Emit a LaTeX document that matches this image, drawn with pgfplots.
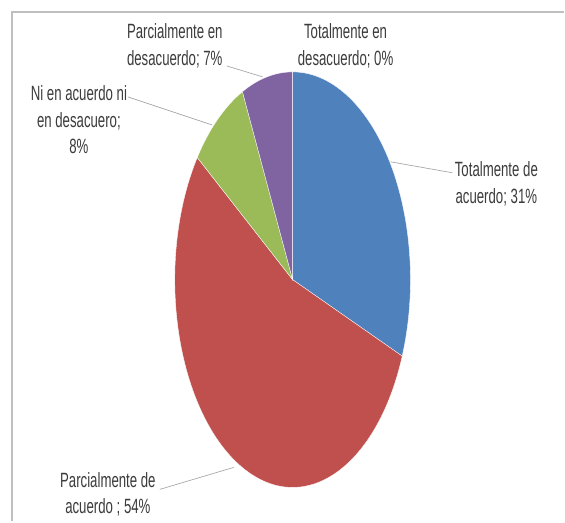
\documentclass[border=0pt]{standalone}
\usepackage{pgfplots}
\pgfplotsset{compat=1.18}
\usepackage{fontspec}
\setmainfont{Liberation Sans}[FakeStretch=0.64]

\definecolor{pieblue}{HTML}{4F81BD}
\definecolor{piered}{HTML}{C0504D}
\definecolor{piegreen}{HTML}{9BBB59}
\definecolor{piepurple}{HTML}{8064A2}
\definecolor{labelgrey}{HTML}{3C3C3C}
\definecolor{framegrey}{HTML}{BFBFBF}

\tikzset{lbl/.style={font=\fontsize{15.5}{20}\selectfont, text=labelgrey,
    align=center, inner sep=0pt}}

\begin{document}
\begin{tikzpicture}
  \begin{axis}[
      x=0.75pt, y=0.75pt,
      xmin=0, xmax=565, ymin=0, ymax=522,
      scale only axis,
      axis lines=none,
      clip=false,
    ]
    % background and chart frame
    \fill[white] (axis cs:0,0) rectangle (axis cs:565,522);
    \draw[framegrey, line width=1.1pt] (axis cs:12,0) -- (axis cs:12,510) -- (axis cs:565,510);

    % slices: share in %, clockwise from 12 o'clock
    \gdef\curang{90}
    \foreach \v/\c in {31/pieblue,54/piered,8/piegreen,7/piepurple,0/piepurple}{
      \pgfmathsetmacro\nextang{\curang-3.6*\v}
      \ifdim\v pt>0pt
        \edef\temp{\noexpand\fill[\c, draw=white, line width=0.25pt]
          (axis cs:293,242) -- ++({88.5pt*cos(\curang)},{156pt*sin(\curang)})
          arc[start angle=\curang, end angle=\nextang, x radius=88.5pt, y radius=156pt]
          -- cycle;}
        \temp
      \fi
      \xdef\curang{\nextang}
    }

    % leader lines
    \draw[gray!70, line width=0.5pt] (axis cs:391,360) -- (axis cs:453,349);
    \draw[gray!70, line width=0.5pt] (axis cs:227,456) -- (axis cs:263,445);
    \draw[gray!70, line width=0.5pt] (axis cs:128,425) -- (axis cs:212,397);
    \draw[gray!70, line width=0.5pt] (axis cs:160,32) -- (axis cs:234,54);

    % data labels
    \node[lbl] at (axis cs:497,338) {Totalmente de\\acuerdo; 31\%};
    \node[lbl] at (axis cs:108,27) {Parcialmente de\\acuerdo ; 54\%};
    \node[lbl] at (axis cs:79,402) {Ni en acuerdo ni\\en desacuero;\\8\%};
    \node[lbl] at (axis cs:175,476) {Parcialmente en\\desacuerdo; 7\%};
    \node[lbl] at (axis cs:346,476) {Totalmente en\\desacuerdo; 0\%};
  \end{axis}
\end{tikzpicture}
\end{document}
